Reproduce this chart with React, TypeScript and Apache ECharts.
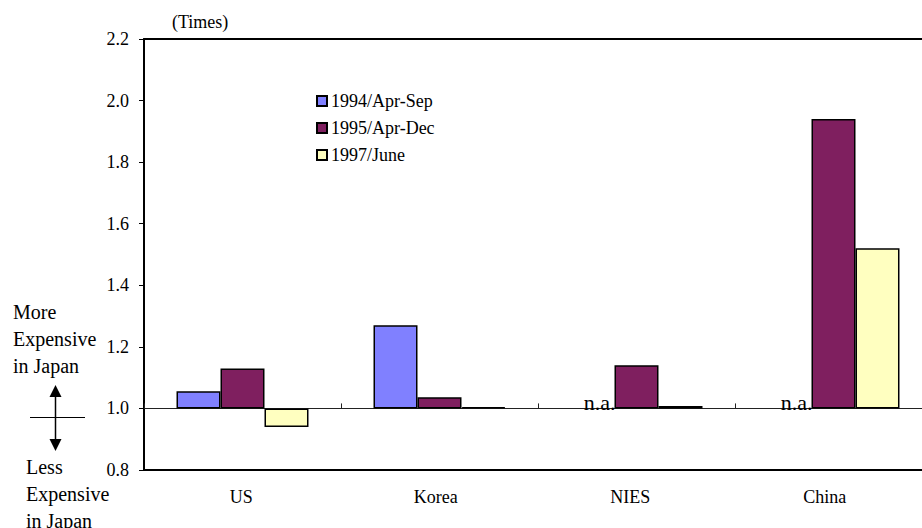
import React, { useEffect, useRef } from "react";
import * as echarts from "echarts";

const categories = ["US", "Korea", "NIES", "China"];
const seriesNames = ["1994/Apr-Sep", "1995/Apr-Dec", "1997/June"];
const values1994: (number | null)[] = [1.056, 1.27, null, null];
const values1995: (number | null)[] = [1.13, 1.036, 1.14, 1.94];
const values1997: (number | null)[] = [0.94, 1.004, 1.008, 1.52];
const colors = ["#8080FF", "#7F1F5F", "#FFFFC0"];
const baseValue = 1.0;
const yMinLabel = 0.8;
const yMaxLabel = 2.2;
const yStep = 0.2;

const FONT = "Liberation Serif";

function toData(arr: (number | null)[]) {
  return arr.map((v) =>
    v === null
      ? {
          value: 0,
          itemStyle: { color: "transparent", borderWidth: 0 },
          label: {
            show: true,
            position: "top",
            distance: 0,
            formatter: "n.a.",
            fontSize: 22,
            fontFamily: FONT,
            color: "#000",
            offset: [7, 5],
          },
        }
      : +(v - baseValue).toFixed(4)
  );
}

export default function App() {
  const ref = useRef<HTMLDivElement>(null);
  useEffect(() => {
    document.body.style.margin = "0";
    document.body.style.overflow = "hidden";
    document.documentElement.style.overflow = "hidden";
    if (!ref.current) return;
    const chart = echarts.init(ref.current, undefined, { renderer: "svg" });
    const yMin = +(yMinLabel - baseValue).toFixed(4);
    const yMax = +(yMaxLabel - baseValue).toFixed(4);
    const gridRect = { left: 144, top: 39, right: 0, bottom: 58 };
    const labelGridRect = { left: 144, top: 39, right: 10, bottom: 58 };
    const allValues = [values1994, values1995, values1997];
    chart.setOption({
      animation: false,
      textStyle: { fontFamily: FONT, color: "#000" },
      grid: [gridRect, gridRect, labelGridRect],
      legend: {
        orient: "vertical",
        left: 316,
        top: 92,
        padding: 0,
        icon: "rect",
        itemWidth: 10,
        itemHeight: 10,
        itemGap: 9,
        textStyle: { fontSize: 18, fontFamily: FONT, color: "#000", padding: [0, 0, 0, -1] },
        data: seriesNames,
      },
      xAxis: [
        {
          type: "category",
          gridIndex: 0,
          data: categories,
          position: "bottom",
          axisLine: { onZero: false, lineStyle: { color: "#000", width: 2 } },
          axisTick: { show: false },
          axisLabel: { show: false },
        },
        {
          type: "category",
          gridIndex: 0,
          data: categories,
          position: "top",
          axisLine: { onZero: false, lineStyle: { color: "#000", width: 2 } },
          axisTick: { show: false },
          axisLabel: { show: false },
        },
        {
          type: "category",
          gridIndex: 1,
          data: categories,
          axisLine: { onZero: true, lineStyle: { color: "#222", width: 1 } },
          axisTick: { show: true, inside: true, length: 5, lineStyle: { color: "#222" } },
          axisLabel: { show: false },
        },
        {
          type: "category",
          gridIndex: 2,
          data: categories,
          position: "bottom",
          axisLine: { show: false, onZero: false },
          axisTick: { show: false },
          axisLabel: { fontSize: 18, fontFamily: FONT, color: "#000", margin: 18 },
        },
      ],
      yAxis: [
        {
          type: "value",
          gridIndex: 0,
          min: yMin,
          max: yMax,
          interval: yStep,
          splitLine: { show: false },
          axisLine: { show: true, onZero: false, lineStyle: { color: "#000", width: 2 } },
          axisTick: { show: true, length: 5, lineStyle: { color: "#000" } },
          axisLabel: {
            fontSize: 18,
            fontFamily: FONT,
            color: "#000",
            margin: 15,
            formatter: (v: number) => (v + baseValue).toFixed(1),
          },
          name: "(Times)",
          nameLocation: "end",
          nameGap: 8,
          nameTextStyle: { fontSize: 18, fontFamily: FONT, color: "#000", align: "left", padding: [0, 0, 0, 28] },
        },
        { type: "value", gridIndex: 1, min: yMin, max: yMax, interval: yStep, show: false },
        { type: "value", gridIndex: 2, min: yMin, max: yMax, interval: yStep, show: false },
      ],
      series: seriesNames.map((name, i) => ({
        name,
        type: "bar",
        xAxisIndex: 0,
        yAxisIndex: 0,
        barGap: "0%",
        barCategoryGap: "33%",
        itemStyle: { color: colors[i], borderColor: "#000", borderWidth: 1.5 },
        data: toData(allValues[i]),
      })),
      graphic: [
        {
          type: "text",
          left: 13,
          top: 298,
          style: { text: "More\nExpensive\nin Japan", font: `20px ${FONT}`, lineHeight: 27, fill: "#000" },
        },
        {
          type: "text",
          left: 26,
          top: 453,
          style: { text: "Less\nExpensive\nin Japan", font: `20px ${FONT}`, lineHeight: 27, fill: "#000" },
        },
        { type: "line", shape: { x1: 55.5, y1: 396, x2: 55.5, y2: 441 }, style: { stroke: "#000", lineWidth: 1.5 } },
        { type: "polygon", shape: { points: [[55.5, 385], [49.5, 397], [61.5, 397]] }, style: { fill: "#000" } },
        { type: "polygon", shape: { points: [[55.5, 451], [49.5, 439], [61.5, 439]] }, style: { fill: "#000" } },
        { type: "line", shape: { x1: 30, y1: 417.5, x2: 85, y2: 417.5 }, style: { stroke: "#000", lineWidth: 1 } },
      ],
    });
    return () => chart.dispose();
  }, []);
  return <div ref={ref} style={{ width: 932, height: 528 }} />;
}
